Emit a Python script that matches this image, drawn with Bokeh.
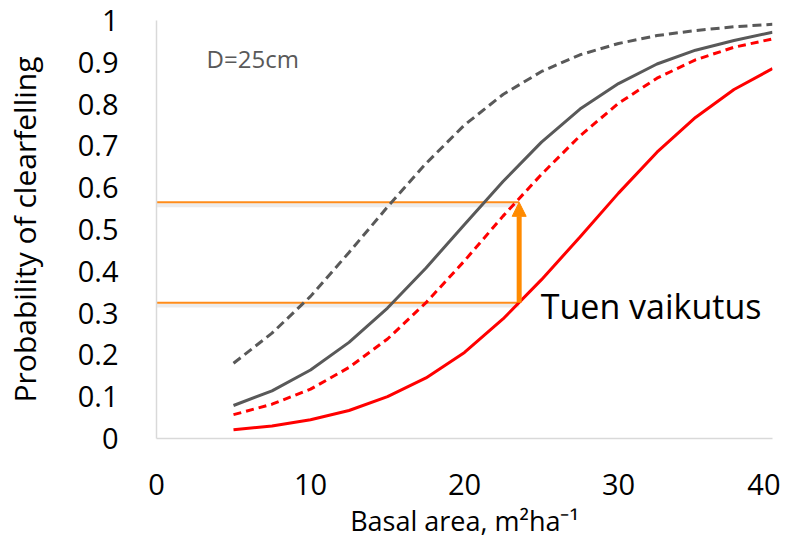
from bokeh.plotting import figure
from bokeh.models import FixedTicker, Arrow, NormalHead, Label, Range1d
from bokeh.embed import file_html
from bokeh.resources import INLINE

# Data
basal_area = [5, 7.5, 10, 12.5, 15, 17.5, 20, 22.5, 25, 27.5, 30, 32.5, 35, 37.5, 40]
gray_dashed = [0.180, 0.252, 0.340, 0.445, 0.554, 0.658, 0.750, 0.823, 0.878, 0.918, 0.945, 0.964, 0.976, 0.985, 0.991]
gray_solid = [0.079, 0.114, 0.164, 0.230, 0.312, 0.408, 0.512, 0.615, 0.709, 0.788, 0.849, 0.896, 0.929, 0.952, 0.972]
red_dashed = [0.057, 0.082, 0.118, 0.170, 0.238, 0.325, 0.425, 0.532, 0.632, 0.724, 0.802, 0.862, 0.906, 0.936, 0.956]
red_solid = [0.021, 0.030, 0.045, 0.067, 0.100, 0.145, 0.206, 0.286, 0.380, 0.482, 0.587, 0.685, 0.768, 0.835, 0.885]

x_ticks = [0, 10, 20, 30, 40]
y_ticks = [0, 0.1, 0.2, 0.3, 0.4, 0.5, 0.6, 0.7, 0.8, 0.9, 1]
y_tick_labels = ["0", "0.1", "0.2", "0.3", "0.4", "0.5", "0.6", "0.7", "0.8", "0.9", "1"]

effect_low = 0.325
effect_high = 0.565
effect_x = 23.55

FONT = "Open Sans"

p = figure(width=780, height=541, output_backend="svg", toolbar_location=None,
           x_range=Range1d(0, 40), y_range=Range1d(0, 1))
p.min_border_left = 155
p.min_border_right = 8
p.min_border_top = 20
p.min_border_bottom = 101
p.outline_line_color = None
p.xgrid.visible = False
p.ygrid.visible = False

# axes
p.xaxis.ticker = FixedTicker(ticks=x_ticks)
p.yaxis.ticker = FixedTicker(ticks=y_ticks)
p.yaxis.major_label_overrides = {t: l for t, l in zip(y_ticks, y_tick_labels)}
p.xaxis.major_label_overrides = {t: str(t) for t in x_ticks}
for ax in (p.xaxis, p.yaxis):
    ax.axis_line_color = "#d9d9d9"
    ax.axis_line_width = 1.5
    ax.major_tick_line_color = None
    ax.minor_tick_line_color = None
    ax.major_label_text_font = FONT
    ax.major_label_text_font_size = "29px"
    ax.major_label_text_color = "#000000"
    ax.axis_label_text_font = FONT
    ax.axis_label_text_font_style = "normal"
    ax.axis_label_text_color = "#000000"
p.xaxis.axis_label_text_font_size = "27px"
p.yaxis.axis_label_text_font_size = "30px"
p.xaxis.major_label_standoff = 29
p.yaxis.major_label_standoff = 32
p.xaxis.axis_label = "Basal area, m²ha⁻¹"
p.yaxis.axis_label = "Probability of clearfelling"
p.xaxis.axis_label_standoff = 4
p.yaxis.axis_label_standoff = 30

# orange guide lines with faint shadow
for yv in (effect_high, effect_low):
    p.line([0, effect_x], [yv - 0.007, yv - 0.007], line_color="#bfbfbf", line_width=4, line_alpha=0.3)
    p.line([0, effect_x], [yv, yv], line_color="#ff8c1a", line_width=2)

# curves
p.line(basal_area, red_solid, line_color="#ff0000", line_width=3)
p.line(basal_area, red_dashed, line_color="#ff0000", line_width=3, line_dash="8 5")
p.line(basal_area, gray_solid, line_color="#595959", line_width=3)
p.line(basal_area, gray_dashed, line_color="#595959", line_width=3, line_dash="9 5")

# arrow
p.add_layout(Arrow(end=NormalHead(size=14, fill_color="#ff8a00", line_color="#ff8a00"),
                   x_start=effect_x, y_start=effect_low, x_end=effect_x, y_end=effect_high,
                   line_color="#ff8a00", line_width=5))

p.add_layout(Label(x=24.95, y=0.316, text="Tuen vaikutus", text_font=FONT,
                   text_font_size="34px", text_color="#000000", text_baseline="alphabetic"))
p.add_layout(Label(x=3.25, y=0.908, text="D=25cm", text_font=FONT,
                   text_font_size="24px", text_color="#595959", text_baseline="alphabetic"))

open("out.html", "w").write(file_html(p, INLINE))
